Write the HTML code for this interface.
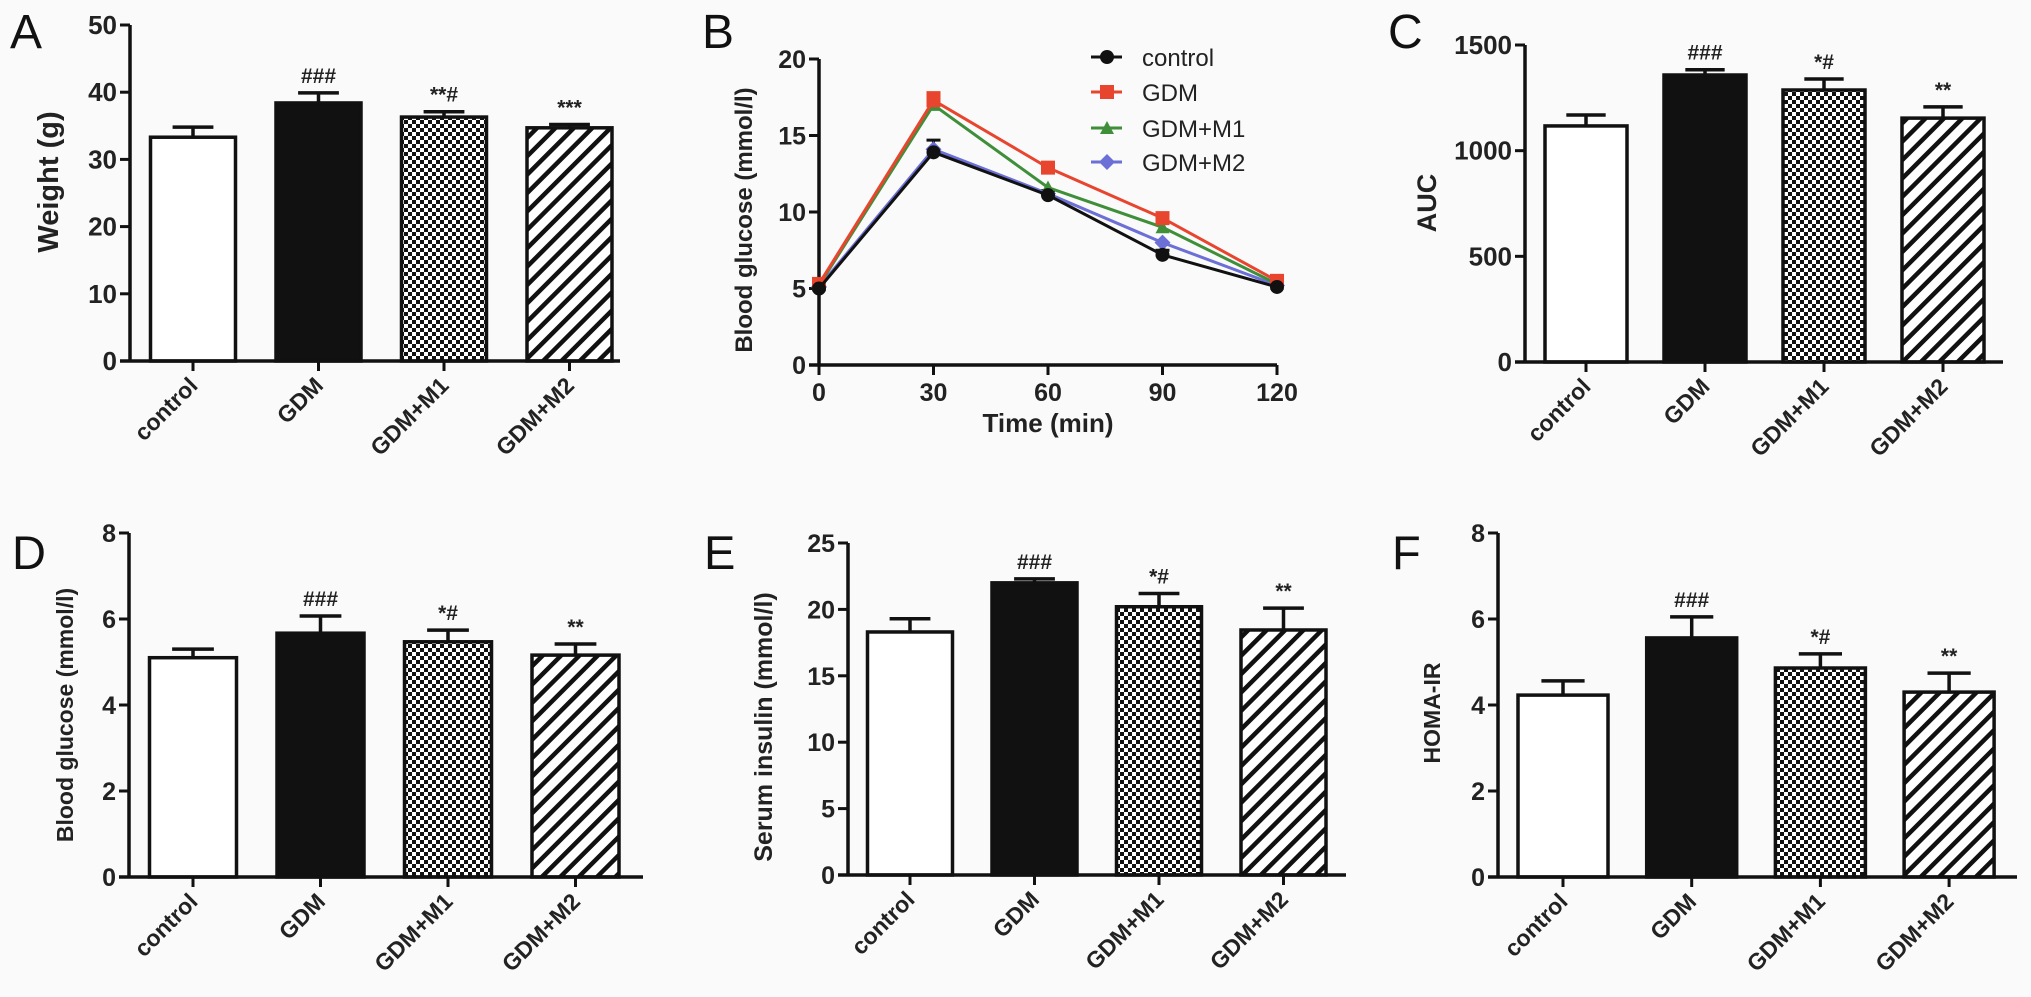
<!DOCTYPE html>
<html><head><meta charset="utf-8"><style>
html,body{margin:0;padding:0;background:#fafafa;}
svg{display:block;font-family:"Liberation Sans",Arial,sans-serif;}
</style></head><body>
<svg id="fig" width="2031" height="997" viewBox="0 0 2031 997" xmlns="http://www.w3.org/2000/svg">
<defs>
<pattern id="checker" width="8" height="8" patternUnits="userSpaceOnUse">
<rect width="8" height="8" fill="#111"/><rect x="0" y="0" width="4" height="4" fill="#fff"/><rect x="4" y="4" width="4" height="4" fill="#fff"/>
</pattern>
<pattern id="stripes" width="13" height="13" patternUnits="userSpaceOnUse" patternTransform="rotate(45)">
<rect width="13" height="13" fill="#fff"/><rect x="0" y="0" width="4.5" height="13" fill="#111"/>
</pattern>
</defs>
<rect width="2031" height="997" fill="#fafafa"/>
<g id="root"></g>
</svg>
<script>
// ---- data ----
const categories = ["control","GDM","GDM+M1","GDM+M2"];
const weightVals = [33.3, 38.4, 36.3, 34.7];
const weightErr = [1.5, 1.5, 0.8, 0.5];
const weightSig = ["", "###", "**#", "***"];
const aucVals = [1117, 1358, 1287, 1154];
const aucErr = [52, 25, 52, 53];
const aucSig = ["", "###", "*#", "**"];
const fbgVals = [5.1, 5.67, 5.47, 5.16];
const fbgErr = [0.2, 0.4, 0.27, 0.26];
const fbgSig = ["", "###", "*#", "**"];
const insVals = [18.3, 22.0, 20.2, 18.45];
const insErr = [1.0, 0.3, 1.0, 1.65];
const insSig = ["", "###", "*#", "**"];
const homaVals = [4.23, 5.56, 4.86, 4.3];
const homaErr = [0.33, 0.49, 0.33, 0.44];
const homaSig = ["", "###", "*#", "**"];
const timePoints = [0, 30, 60, 90, 120];
const ogttControl = [5.0, 13.9, 11.1, 7.2, 5.1];
const ogttGDM = [5.3, 17.3, 12.9, 9.6, 5.5];
const ogttM1 = [5.2, 17.0, 11.6, 9.0, 5.3];
const ogttM2 = [5.1, 14.1, 11.2, 8.0, 5.2];
const ogttControlErr = [0.2, 0.8, 0.3, 0.3, 0.1];
const ogttGDMErr = [0.2, 0.5, 0.3, 0.3, 0.1];
const ogttSeries = ["control","GDM","GDM+M1","GDM+M2"];
const weightTicks = [0,10,20,30,40,50];
const aucTicks = [0,500,1000,1500];
const fbgTicks = [0,2,4,6,8];
const insTicks = [0,5,10,15,20,25];
const homaTicks = [0,2,4,6,8];
const ogttYTicks = [0,5,10,15,20];

const NS = "http://www.w3.org/2000/svg";
const root = document.getElementById("root");
function mk(tag, attrs, parent, text){
  const e = document.createElementNS(NS, tag);
  for (const k in attrs) e.setAttribute(k, attrs[k]);
  if (text !== undefined) e.textContent = text;
  (parent || root).appendChild(e);
  return e;
}
const fills = ["#fff", "#111", "url(#checker)", "url(#stripes)"];

function barPanel(p){
  const g = mk("g", {});
  
  
  const ys = v => p.y0 - (v / p.max) * (p.y0 - p.yTop);
  const xs = i => p.c0 + i * p.step;
  const lt = mk("text", {x:p.lx, y:p.ly, "font-size":p.lfs, fill:"#111"}, g, p.letter);
  
  
  p.vals.forEach((v,i)=>{
    const x = xs(i) - p.bw/2, y = ys(v);
    const r = mk("rect", {x:x, y:y, width:p.bw, height:p.y0 - y, fill:fills[i], stroke:"#111", "stroke-width":3.5}, g);
    
    
    const ye = ys(v + p.err[i]);
    const eb = mk("path", {d:`M${xs(i)},${y} V${ye} M${xs(i)-p.bw*0.24},${ye} H${xs(i)+p.bw*0.24}`, stroke:"#111", "stroke-width":3.5, fill:"none"}, g);
    
    
    if (p.sig[i]) {
      const s = mk("text", {x:xs(i), y:ye - 10, "font-size":21, "font-weight":"bold", "text-anchor":"middle", fill:"#222"}, g, p.sig[i]);
      
      
    }
  });
  const ax = mk("path", {d:`M${p.ax},${p.yTop} V${p.y0} M${p.ax-10},${p.y0} H${p.xEnd}`, stroke:"#111", "stroke-width":3.5, fill:"none"}, g);
  
  
  p.ticks.forEach(t=>{
    const y = ys(t);
    const tk = mk("line", {x1:p.ax-10, x2:p.ax, y1:y, y2:y, stroke:"#111", "stroke-width":3}, g);
    
    
    const tl = mk("text", {x:p.ax-13, y:y+9, "font-size":p.tfs, "font-weight":"bold", "text-anchor":"end", fill:"#222"}, g, String(t));
    
    
  });
  categories.forEach((c,i)=>{
    const x = xs(i);
    const tk = mk("line", {x1:x, x2:x, y1:p.y0, y2:p.y0+10, stroke:"#111", "stroke-width":3}, g);
    
    
    const tl = mk("text", {x:x+6, y:p.y0+26, "font-size":23, "font-weight":"bold", "text-anchor":"end", fill:"#222", transform:`rotate(-45 ${x+6} ${p.y0+26})`}, g, c);
    
    
  });
  const yt = mk("text", {x:p.tx, y:p.tcy, "font-size":p.yfs, "font-weight":"bold", "text-anchor":"middle", fill:"#222", transform:`rotate(-90 ${p.tx} ${p.tcy})`}, g, p.title);
  
  
}

barPanel({name:"panel-a-weight", letter:"A", lx:10, ly:48, lfs:48, vals:weightVals, err:weightErr, sig:weightSig, max:50, ticks:weightTicks, ax:130, y0:361, yTop:25, xEnd:620, c0:193, step:125.5, bw:85, tfs:26, title:"Weight (g)", tx:58, tcy:182, yfs:29});
barPanel({name:"panel-c-auc", letter:"C", lx:1388, ly:48, lfs:48, vals:aucVals, err:aucErr, sig:aucSig, max:1500, ticks:aucTicks, ax:1525, y0:362, yTop:45, xEnd:2003, c0:1586, step:119, bw:82, tfs:26, title:"AUC", tx:1436, tcy:203, yfs:27});
barPanel({name:"panel-d-blood-glucose", letter:"D", lx:12, ly:569, lfs:47, vals:fbgVals, err:fbgErr, sig:fbgSig, max:8, ticks:fbgTicks, ax:129, y0:877, yTop:533, xEnd:643, c0:193, step:127.5, bw:87, tfs:25, title:"Blood glucose (mmol/l)", tx:73, tcy:715, yfs:23});
barPanel({name:"panel-e-serum-insulin", letter:"E", lx:704, ly:569, lfs:47, vals:insVals, err:insErr, sig:insSig, max:25, ticks:insTicks, ax:848, y0:875, yTop:543, xEnd:1346, c0:910, step:124.5, bw:85, tfs:25, title:"Serum insulin (mmol/l)", tx:772, tcy:727, yfs:25});
barPanel({name:"panel-f-homa-ir", letter:"F", lx:1392, ly:569, lfs:47, vals:homaVals, err:homaErr, sig:homaSig, max:8, ticks:homaTicks, ax:1498, y0:877, yTop:533, xEnd:2017, c0:1563, step:128.7, bw:90, tfs:25, title:"HOMA-IR", tx:1440, tcy:713, yfs:23});

// ---- panel B line chart ----
(function(){
  const g = mk("g", {});
  
  
  const ax = 819, axEnd = 1277, y0 = 365, yTop = 59;
  const xs = t => ax + (t/120)*(axEnd-ax);
  const ys = v => y0 - (v/20)*(y0-yTop);
  const lt = mk("text", {x:702, y:48, "font-size":48, fill:"#111"}, g, "B");
  
  
  const a = mk("path", {d:`M${ax},${yTop} V${y0} M${ax-10},${y0} H${axEnd}`, stroke:"#111", "stroke-width":3.5, fill:"none"}, g);
  
  
  ogttYTicks.forEach(t=>{
    const y = ys(t);
    const tk = mk("line", {x1:ax-10, x2:ax, y1:y, y2:y, stroke:"#111", "stroke-width":3}, g);
    
    
    const tl = mk("text", {x:ax-13, y:y+9, "font-size":25, "font-weight":"bold", "text-anchor":"end", fill:"#222"}, g, String(t));
    
    
  });
  timePoints.forEach(t=>{
    const x = xs(t);
    const tk = mk("line", {x1:x, x2:x, y1:y0, y2:y0+10, stroke:"#111", "stroke-width":3}, g);
    
    
    const tl = mk("text", {x:x, y:y0+36, "font-size":25, "font-weight":"bold", "text-anchor":"middle", fill:"#222"}, g, String(t));
    
    
  });
  const xt = mk("text", {x:1048, y:432, "font-size":26, "font-weight":"bold", "text-anchor":"middle", fill:"#222"}, g, "Time  (min)");
  
  
  const yt = mk("text", {x:752, y:220, "font-size":24, "font-weight":"bold", "text-anchor":"middle", fill:"#222", transform:"rotate(-90 752 220)"}, g, "Blood glucose  (mmol/l)");
  
  

  const colors = ["#111", "#e8452f", "#3f8f3a", "#6b6fd6"];
  const shapes = ["circle","square","triangle","diamond"];
  const data = [ogttControl, ogttGDM, ogttM1, ogttM2];
  function marker(parent, shape, x, y, c){
    let m;
    if (shape==="circle") m = mk("circle", {cx:x, cy:y, r:7, fill:c}, parent);
    else if (shape==="square") m = mk("rect", {x:x-7, y:y-7, width:14, height:14, fill:c}, parent);
    else if (shape==="triangle") m = mk("path", {d:`M${x},${y-7} L${x+7},${y+6} L${x-7},${y+6} Z`, fill:c}, parent);
    else m = mk("path", {d:`M${x},${y-8} L${x+8},${y} L${x},${y+8} L${x-8},${y} Z`, fill:c}, parent);
    return m;
  }
  [[ogttControl, ogttControlErr, colors[0]], [ogttGDM, ogttGDMErr, colors[1]]].forEach(([vals, err, c])=>{
    vals.forEach((v,i)=>{
      const x = xs(timePoints[i]), ye = ys(v+err[i]);
      const e = mk("path", {d:`M${x},${ys(v)} V${ye} M${x-7},${ye} H${x+7}`, stroke:c, "stroke-width":3, fill:"none"}, g);
      
      
    });
  });
  [3,2,1,0].forEach(si=>{
    const vals = data[si];
    const d = vals.map((v,i)=>(i?"L":"M")+xs(timePoints[i])+","+ys(v)).join(" ");
    const ln = mk("path", {d:d, stroke:colors[si], "stroke-width":3, fill:"none"}, g);
    
    
    vals.forEach((v,i)=>{
      const m = marker(g, shapes[si], xs(timePoints[i]), ys(v), colors[si]);
      
      
    });
  });
  const legY = [57, 92, 128, 162];
  ogttSeries.forEach((s,i)=>{
    const lg = mk("g", {}, g);
    
    
    mk("line", {x1:1091, x2:1122, y1:legY[i], y2:legY[i], stroke:colors[i], "stroke-width":3}, lg);
    marker(lg, shapes[i], 1107, legY[i], colors[i]);
    mk("text", {x:1142, y:legY[i]+9, "font-size":24, fill:"#222"}, lg, s);
  });
})();
</script>
</body></html>
